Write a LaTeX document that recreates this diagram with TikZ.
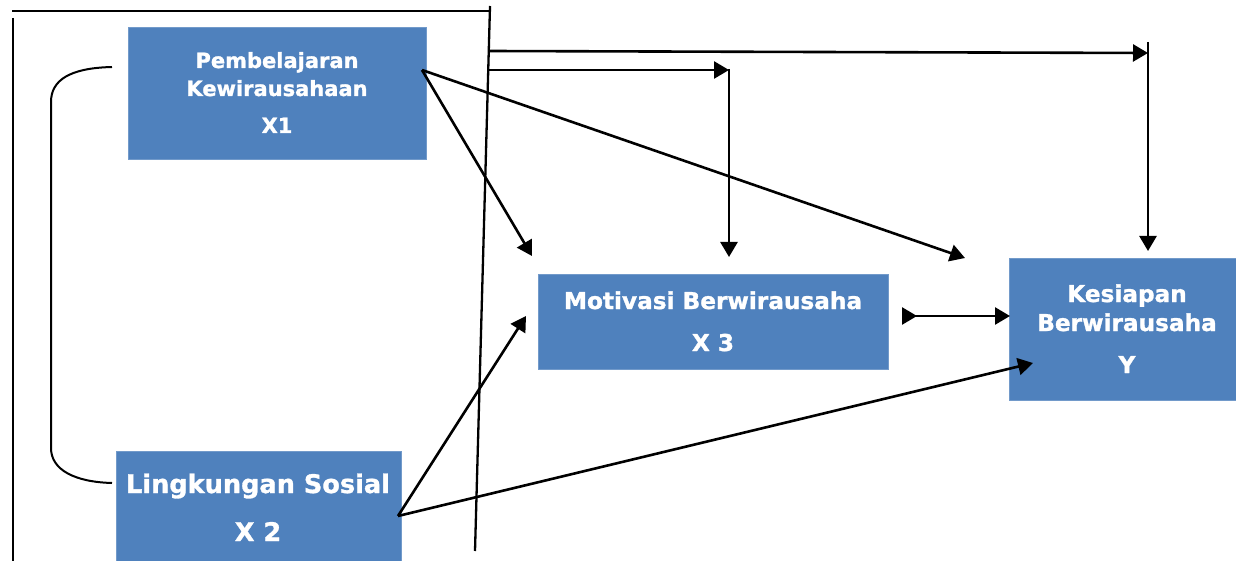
\documentclass[tikz,border=0pt]{standalone}
\usepackage{fontspec}
\setmainfont{DejaVu Sans}[BoldFeatures={FakeBold=1.2}]
\usetikzlibrary{arrows.meta}
\definecolor{boxblue}{HTML}{4F81BD}
\tikzset{
  box/.style={fill=boxblue, draw=boxblue!80!white, line width=0.6pt, inner sep=0pt, anchor=north west},
  lbl/.style={text=white, font=\bfseries, anchor=base, inner sep=0pt},
  ln/.style={line width=2.6pt, line cap=butt},
  tip/.style={},
  arr/.style={ln, -{Triangle[length=15pt,width=17pt]}},
  frame/.style={line width=2.3pt},
}
\begin{document}
\begin{tikzpicture}[x=1pt,y=-1pt]
\useasboundingbox (0,0) rectangle (1236,561);
% boxes
\node[box, minimum width=298pt, minimum height=132pt] (bx1) at (128,27) {};
\node[box, minimum width=285pt, minimum height=112pt] (bx2) at (116,451) {};
\node[box, minimum width=350pt, minimum height=95pt] (bx3) at (538,274) {};
\node[box, minimum width=228pt, minimum height=142pt] (by) at (1009,258) {};
% texts
\node[lbl, font=\bfseries\fontsize{21}{24}\selectfont] (t1a) at (277,68) {Pembelajaran};
\node[lbl, font=\bfseries\fontsize{21}{24}\selectfont] (t1b) at (277,96) {Kewirausahaan};
\node[lbl, font=\bfseries\fontsize{21}{24}\selectfont] (t1c) at (277,133) {X1};
\node[lbl, font=\bfseries\fontsize{25.6}{28}\selectfont] (t2a) at (258,493) {Lingkungan Sosial};
\node[lbl, font=\bfseries\fontsize{25.6}{28}\selectfont] (t2b) at (258,541) {X 2};
\node[lbl, font=\bfseries\fontsize{23.2}{26}\selectfont] (t3a) at (713,309) {Motivasi Berwirausaha};
\node[lbl, font=\bfseries\fontsize{23.2}{26}\selectfont] (t3b) at (713,351) {X 3};
\node[lbl, font=\bfseries\fontsize{23.2}{26}\selectfont] (tya) at (1127,302) {Kesiapan};
\node[lbl, font=\bfseries\fontsize{23.2}{26}\selectfont] (tyb) at (1127,331) {Berwirausaha};
\node[lbl, font=\bfseries\fontsize{23.2}{26}\selectfont] (tyc) at (1127,373) {Y};
% coordinates
\coordinate (topL) at (12,11);
\coordinate (topR) at (491,11);
\coordinate (leftT) at (13,18);
\coordinate (leftB) at (13,561);
\coordinate (slT) at (490,6);
\coordinate (slB) at (475,551);
\coordinate (h1s) at (489,51);
\coordinate (h1e) at (1148,53);
\coordinate (v1t) at (1148,42);
\coordinate (v1b) at (1148,251);
\coordinate (h2s) at (489,70);
\coordinate (h2e) at (729,70);
\coordinate (v2t) at (729,69);
\coordinate (v2b) at (729,257);
\coordinate (o1) at (422,70);
\coordinate (o2) at (398,516);
\coordinate (a13) at (532,256);
\coordinate (a1y) at (965,258);
\coordinate (a23) at (526,316);
\coordinate (a2y) at (1033,363);
\coordinate (r3s) at (902,316);
\coordinate (r3e) at (1010,316);
\coordinate (bkT) at (112,67);
\coordinate (bkB) at (112,483);
% frame lines
\draw[frame] (topL) -- (topR);
\draw[frame] (leftT) -- (leftB);
\draw[frame] (slT) -- (slB);
% bracket
\draw[line width=2pt] (bkT) .. controls (70,68) and (51,80) .. (51,102) -- (51,448) .. controls (51,470) and (75,482) .. (bkB);
% arrows
\draw[arr] (h1s) -- (h1e);
\draw[arr] (v1t) -- (v1b);
\draw[arr] (h2s) -- (h2e);
\draw[arr] (v2t) -- (v2b);
\draw[arr] (o1) -- (a13);
\draw[arr] (o1) -- (a1y);
\draw[arr] (o2) -- (a23);
\draw[arr] (o2) -- (a2y);
\draw[ln, {Triangle[reversed,length=15pt,width=17pt]}-{Triangle[length=15pt,width=17pt]}] (r3s) -- (r3e);
\end{tikzpicture}
\end{document}
